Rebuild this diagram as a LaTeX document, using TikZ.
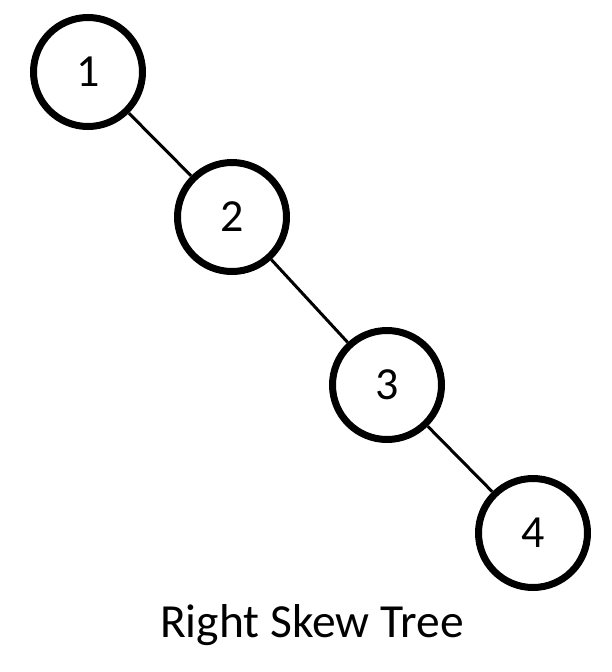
\documentclass[tikz,border=0pt]{standalone}
\usepackage{fontspec}
\setmainfont{Carlito}
\usepackage{tikz}
\usetikzlibrary{calc}
\tikzset{
	treenode/.style={draw=black, line width=7pt, circle, minimum size=109pt, inner sep=0pt, font=\fontsize{46}{50}\selectfont},
	treeedge/.style={line width=3pt, color=black}
}

\begin{document}
\begin{tikzpicture}[x=1pt, y=-1pt]
			%%%%% START %%%%%
			
			\useasboundingbox (0, 0) rectangle (612, 672);
			
			\node[treenode] (n1) at (88, 72) {1};
			\node[treenode] (n2) at (232, 217) {2};
			\node[treenode] (n3) at (387, 385) {3};
			\node[treenode] (n4) at (533, 533) {4};
			
			\draw[treeedge] (n1) -- (n2);
			\draw[treeedge] (n2) -- (n3);
			\draw[treeedge] (n3) -- (n4);
			
			\node[font=\fontsize{47.5}{50}\selectfont, anchor=base] (title) at (312, 637) {Right Skew Tree};
			
			%%%%% END %%%%%
		\end{tikzpicture}
\end{document}
